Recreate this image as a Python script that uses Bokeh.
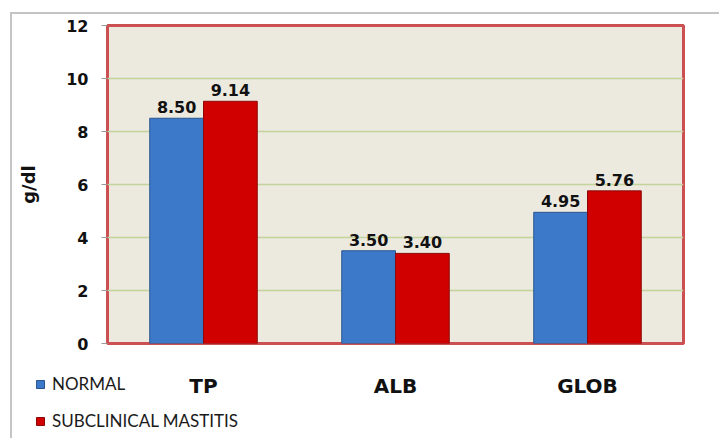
from bokeh.plotting import figure
from bokeh.models import (ColumnDataSource, FactorRange, Range1d, FixedTicker,
                          LabelSet, Legend, LegendItem)
from bokeh.layouts import column
from bokeh.transform import dodge
from bokeh.core.properties import value
from bokeh.embed import file_html
from bokeh.resources import INLINE

categories = ["TP", "ALB", "GLOB"]
normal = [8.50, 3.50, 4.95]
mastitis = [9.14, 3.40, 5.76]
series_names = ["NORMAL", "SUBCLINICAL MASTITIS"]
y_ticks = [0, 2, 4, 6, 8, 10, 12]

BLUE, BLUE_EDGE = "#3c79c8", "#2a5590"
RED, RED_EDGE = "#d00000", "#8a0808"

src = ColumnDataSource(dict(
    cat=categories,
    normal=normal,
    mastitis=mastitis,
    normal_lbl=[f"{v:.2f}" for v in normal],
    mastitis_lbl=[f"{v:.2f}" for v in mastitis],
))

# ---- top figure: plot area with y axis ----
W = 719
FRAME_L, FRAME_R, FRAME_T, FRAME_B = 107, 683, 25, 343
TOP_H = FRAME_B + 12

p = figure(width=W, height=TOP_H, x_range=FactorRange(*categories, range_padding=0),
           y_range=Range1d(0, 12), output_backend="svg", toolbar_location=None,
           x_axis_location=None,
           min_border_left=FRAME_L, min_border_right=W - FRAME_R,
           min_border_top=FRAME_T, min_border_bottom=TOP_H - FRAME_B)
p.frame_align = False

p.background_fill_color = "#ece9df"
p.border_fill_alpha = 0
p.outline_line_color = "#cc4f52"
p.outline_line_width = 3

p.vbar(x=dodge("cat", -0.14, range=p.x_range), top="normal", width=0.28,
       source=src, fill_color=BLUE, line_color=BLUE_EDGE, line_width=1)
p.vbar(x=dodge("cat", 0.14, range=p.x_range), top="mastitis", width=0.28,
       source=src, fill_color=RED, line_color=RED_EDGE, line_width=1)

for col, off in (("normal", -0.14), ("mastitis", 0.14)):
    p.add_layout(LabelSet(x=dodge("cat", off, range=p.x_range), y=col,
                          text=col + "_lbl", source=src, y_offset=5,
                          text_align="center", text_baseline="bottom",
                          text_font=value("DejaVu Sans"), text_font_style="bold",
                          text_font_size="16px", text_color="#111111"))

p.xgrid.grid_line_color = None
p.ygrid.grid_line_color = "#c3d49a"
p.ygrid.grid_line_width = 1.5
p.yaxis.ticker = FixedTicker(ticks=y_ticks)
p.yaxis.axis_line_color = None
p.yaxis.minor_tick_line_color = None
p.yaxis.major_tick_line_color = "#999999"
p.yaxis.major_tick_in = 0
p.yaxis.major_tick_out = 6
p.yaxis.major_label_text_font = "DejaVu Sans"
p.yaxis.major_label_text_font_style = "bold"
p.yaxis.major_label_text_font_size = "16px"
p.yaxis.major_label_text_color = "#111111"
p.yaxis.major_label_standoff = 13
p.yaxis.axis_label = "g/dl"
p.yaxis.axis_label_text_font = "DejaVu Sans"
p.yaxis.axis_label_text_font_style = "bold"
p.yaxis.axis_label_text_font_size = "18px"
p.yaxis.axis_label_text_color = "#111111"
p.yaxis.axis_label_standoff = 24

# ---- bottom figure: category names and legend ----
BOT_H = 438 - TOP_H
step = (FRAME_R - FRAME_L) / len(categories)
first_center = FRAME_L + step / 2
q = figure(width=W, height=BOT_H, output_backend="svg", toolbar_location=None,
           x_range=Range1d(-first_center / step, (W - first_center) / step),
           y_range=Range1d(-BOT_H, 0), x_axis_location=None, y_axis_location=None,
           min_border_left=0, min_border_right=0, min_border_top=0, min_border_bottom=0)
q.frame_align = False
q.outline_line_color = None
q.background_fill_alpha = 0
q.border_fill_alpha = 0
q.xgrid.visible = False
q.ygrid.visible = False

cat_src = ColumnDataSource(dict(x=[categories.index(c) for c in categories],
                                y=[-(385 - TOP_H)] * len(categories),
                                text=categories))
q.text(x="x", y="y", text="text", source=cat_src, text_align="center",
       text_baseline="middle", text_font=value("DejaVu Sans"),
       text_font_style="bold", text_font_size="20px", text_color="#111111")

# hidden proxies: only their legend swatches are shown
lb = q.vbar(x="x", top="y", width=0.3, source=cat_src, fill_color=BLUE,
            line_color=BLUE_EDGE, visible=False)
lr = q.vbar(x="x", top="y", width=0.3, source=cat_src, fill_color=RED,
            line_color=RED_EDGE, visible=False)
legend = Legend(items=[LegendItem(label=series_names[0], renderers=[lb]),
                       LegendItem(label=series_names[1], renderers=[lr])],
                location=(35, 438 - 431), orientation="vertical",
                padding=0, margin=0, spacing=16, label_height=20,
                glyph_width=10, glyph_height=10, label_standoff=7,
                background_fill_alpha=0, border_line_color=None,
                inactive_fill_alpha=0,
                label_text_font="Lato", label_text_font_size="17px",
                label_text_color="#1a1a1a")
q.add_layout(legend, "center")

grey = "#c4c4c4"
p.styles = {"background": (f"linear-gradient({grey},{grey}) 10px 12px / 709px 2px no-repeat, "
                           f"linear-gradient({grey},{grey}) 10px 12px / 2px 400px no-repeat, white")}
q.styles = {"background": f"linear-gradient({grey},{grey}) 10px 0px / 2px 200px no-repeat, white"}
layout = column(p, q, spacing=0)

open("out.html", "w").write(file_html(layout, INLINE))
